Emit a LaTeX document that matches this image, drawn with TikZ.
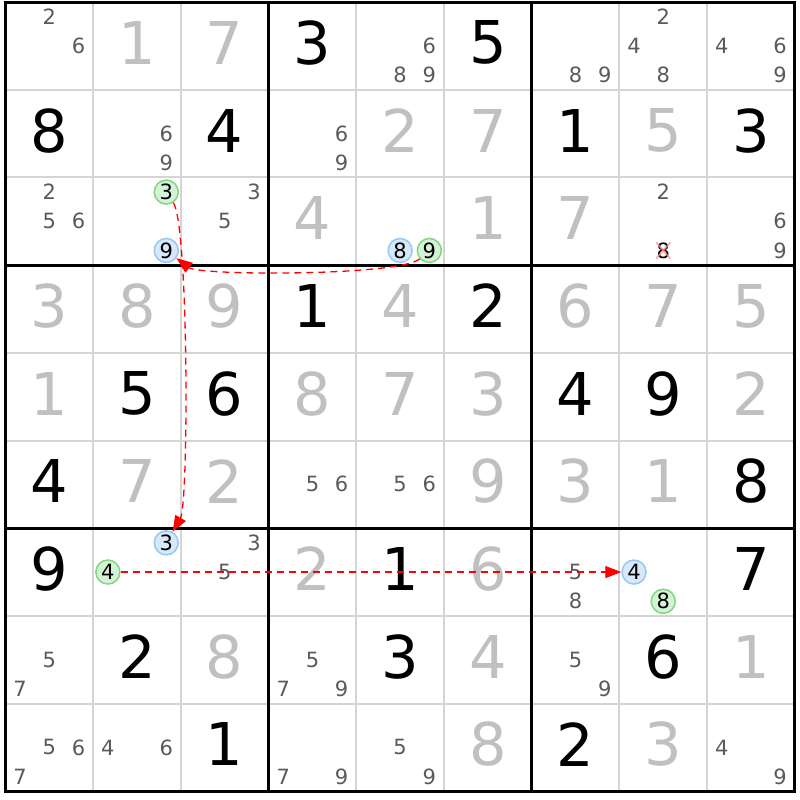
\documentclass[tikz,border=0pt]{standalone}
\usepackage{fontspec}
\setmainfont{DejaVu Sans}
\usetikzlibrary{arrows.meta}

\definecolor{givengray}{HTML}{C0C0C0}
\definecolor{pencilgray}{HTML}{5A5A5A}
\definecolor{cellgray}{HTML}{D4D4D4}
\definecolor{onfill}{HTML}{D6F2D6}
\definecolor{ondraw}{HTML}{80D880}
\definecolor{offfill}{HTML}{D6E8FA}
\definecolor{offdraw}{HTML}{98C8F4}
\definecolor{crosspink}{HTML}{FF8A8A}

\tikzset{
  bigdigit/.style={font=\fontsize{59}{59}\selectfont, inner sep=0pt, yshift=3pt},
  given/.style={bigdigit, text=givengray},
  solved/.style={bigdigit, text=black},
  pencil/.style={font=\fontsize{21}{21}\selectfont, inner sep=0pt, text=pencilgray},
  greenmark/.style={pencil, text=black, circle, draw=ondraw, fill=onfill, line width=1.5pt, minimum size=24pt},
  bluemark/.style={pencil, text=black, circle, draw=offdraw, fill=offfill, line width=1.5pt, minimum size=24pt},
  celline/.style={draw=cellgray, line width=2pt},
  boxline/.style={draw=black, line width=3pt},
  chain/.style={red, line width=1.3pt, dash pattern=on 7pt off 5pt, -{Triangle[length=16pt, width=12pt]}},
  crossmark/.style={crosspink, line width=1.6pt, opacity=0.8}
}

\begin{document}
\begin{tikzpicture}[x=87.7pt, y=-87.7pt]
    \fill[white] (-0.0627,-0.0228) rectangle (9.0593,9.0993);
    \useasboundingbox (-0.0627,-0.0228) rectangle (9.0593,9.0993);

    % grid
    \foreach \i in {1,2,4,5,7,8} {
      \draw[celline] (\i,0) -- (\i,9);
      \draw[celline] (0,\i) -- (9,\i);
    }
    \foreach \i in {3,6} {
      \draw[boxline] (\i,0) -- (\i,9);
      \draw[boxline] (0,\i) -- (9,\i);
    }
    \draw[boxline] (0,0) rectangle (9,9);

    % row 0
    \node[given]  (v01) at (1.5,0.5) {1};
    \node[given]  (v02) at (2.5,0.5) {7};
    \node[solved] (v03) at (3.5,0.5) {3};
    \node[solved] (v05) at (5.5,0.5) {5};
    % row 1
    \node[solved] (v10) at (0.5,1.5) {8};
    \node[solved] (v12) at (2.5,1.5) {4};
    \node[given]  (v14) at (4.5,1.5) {2};
    \node[given]  (v15) at (5.5,1.5) {7};
    \node[solved] (v16) at (6.5,1.5) {1};
    \node[given]  (v17) at (7.5,1.5) {5};
    \node[solved] (v18) at (8.5,1.5) {3};
    % row 2
    \node[given]  (v23) at (3.5,2.5) {4};
    \node[given]  (v25) at (5.5,2.5) {1};
    \node[given]  (v26) at (6.5,2.5) {7};
    % row 3
    \node[given]  (v30) at (0.5,3.5) {3};
    \node[given]  (v31) at (1.5,3.5) {8};
    \node[given]  (v32) at (2.5,3.5) {9};
    \node[solved] (v33) at (3.5,3.5) {1};
    \node[given]  (v34) at (4.5,3.5) {4};
    \node[solved] (v35) at (5.5,3.5) {2};
    \node[given]  (v36) at (6.5,3.5) {6};
    \node[given]  (v37) at (7.5,3.5) {7};
    \node[given]  (v38) at (8.5,3.5) {5};
    % row 4
    \node[given]  (v40) at (0.5,4.5) {1};
    \node[solved] (v41) at (1.5,4.5) {5};
    \node[solved] (v42) at (2.5,4.5) {6};
    \node[given]  (v43) at (3.5,4.5) {8};
    \node[given]  (v44) at (4.5,4.5) {7};
    \node[given]  (v45) at (5.5,4.5) {3};
    \node[solved] (v46) at (6.5,4.5) {4};
    \node[solved] (v47) at (7.5,4.5) {9};
    \node[given]  (v48) at (8.5,4.5) {2};
    % row 5
    \node[solved] (v50) at (0.5,5.5) {4};
    \node[given]  (v51) at (1.5,5.5) {7};
    \node[given]  (v52) at (2.5,5.5) {2};
    \node[given]  (v55) at (5.5,5.5) {9};
    \node[given]  (v56) at (6.5,5.5) {3};
    \node[given]  (v57) at (7.5,5.5) {1};
    \node[solved] (v58) at (8.5,5.5) {8};
    % row 6
    \node[solved] (v60) at (0.5,6.5) {9};
    \node[given]  (v63) at (3.5,6.5) {2};
    \node[solved] (v64) at (4.5,6.5) {1};
    \node[given]  (v65) at (5.5,6.5) {6};
    \node[solved] (v68) at (8.5,6.5) {7};
    % row 7
    \node[solved] (v71) at (1.5,7.5) {2};
    \node[given]  (v72) at (2.5,7.5) {8};
    \node[solved] (v74) at (4.5,7.5) {3};
    \node[given]  (v75) at (5.5,7.5) {4};
    \node[solved] (v77) at (7.5,7.5) {6};
    \node[given]  (v78) at (8.5,7.5) {1};
    % row 8
    \node[solved] (v82) at (2.5,8.5) {1};
    \node[given]  (v85) at (5.5,8.5) {8};
    \node[solved] (v86) at (6.5,8.5) {2};
    \node[given]  (v87) at (7.5,8.5) {3};

    % pencil marks
    \node[pencil] (p002) at (0.5,0.167) {2};
    \node[pencil] (p006) at (0.833,0.5) {6};
    \node[pencil] (p046) at (4.833,0.5) {6};
    \node[pencil] (p048) at (4.5,0.833) {8};
    \node[pencil] (p049) at (4.833,0.833) {9};
    \node[pencil] (p068) at (6.5,0.833) {8};
    \node[pencil] (p069) at (6.833,0.833) {9};
    \node[pencil] (p072) at (7.5,0.167) {2};
    \node[pencil] (p074) at (7.167,0.5) {4};
    \node[pencil] (p078) at (7.5,0.833) {8};
    \node[pencil] (p084) at (8.167,0.5) {4};
    \node[pencil] (p086) at (8.833,0.5) {6};
    \node[pencil] (p089) at (8.833,0.833) {9};

    \node[pencil] (p116) at (1.833,1.5) {6};
    \node[pencil] (p119) at (1.833,1.833) {9};
    \node[pencil] (p136) at (3.833,1.5) {6};
    \node[pencil] (p139) at (3.833,1.833) {9};

    \node[pencil] (p202) at (0.5,2.167) {2};
    \node[pencil] (p205) at (0.5,2.5) {5};
    \node[pencil] (p206) at (0.833,2.5) {6};
    \node[greenmark] (p213) at (1.833,2.167) {3};
    \node[bluemark]  (p219) at (1.833,2.833) {9};
    \node[pencil] (p223) at (2.833,2.167) {3};
    \node[pencil] (p225) at (2.5,2.5) {5};
    \node[bluemark]  (p248) at (4.5,2.833) {8};
    \node[greenmark] (p249) at (4.833,2.833) {9};
    \node[pencil] (p272) at (7.5,2.167) {2};
    \node[pencil, text=black] (p278) at (7.5,2.833) {8};
    \draw[crossmark] (p278.center) ++(-7pt,-8pt) -- ++(14pt,16pt);
    \draw[crossmark] (p278.center) ++(-7pt,8pt) -- ++(14pt,-16pt);
    \node[pencil] (p286) at (8.833,2.5) {6};
    \node[pencil] (p289) at (8.833,2.833) {9};

    \node[pencil] (p535) at (3.5,5.5) {5};
    \node[pencil] (p536) at (3.833,5.5) {6};
    \node[pencil] (p545) at (4.5,5.5) {5};
    \node[pencil] (p546) at (4.833,5.5) {6};

    \node[bluemark]  (p613) at (1.833,6.167) {3};
    \node[greenmark] (p614) at (1.167,6.5) {4};
    \node[pencil] (p623) at (2.833,6.167) {3};
    \node[pencil] (p625) at (2.5,6.5) {5};
    \node[pencil] (p665) at (6.5,6.5) {5};
    \node[pencil] (p668) at (6.5,6.833) {8};
    \node[bluemark]  (p674) at (7.167,6.5) {4};
    \node[greenmark] (p678) at (7.5,6.833) {8};

    \node[pencil] (p705) at (0.5,7.5) {5};
    \node[pencil] (p707) at (0.167,7.833) {7};
    \node[pencil] (p735) at (3.5,7.5) {5};
    \node[pencil] (p737) at (3.167,7.833) {7};
    \node[pencil] (p739) at (3.833,7.833) {9};
    \node[pencil] (p765) at (6.5,7.5) {5};
    \node[pencil] (p769) at (6.833,7.833) {9};

    \node[pencil] (p805) at (0.5,8.5) {5};
    \node[pencil] (p806) at (0.833,8.5) {6};
    \node[pencil] (p807) at (0.167,8.833) {7};
    \node[pencil] (p814) at (1.167,8.5) {4};
    \node[pencil] (p816) at (1.833,8.5) {6};
    \node[pencil] (p837) at (3.167,8.833) {7};
    \node[pencil] (p839) at (3.833,8.833) {9};
    \node[pencil] (p845) at (4.5,8.5) {5};
    \node[pencil] (p849) at (4.833,8.833) {9};
    \node[pencil] (p884) at (8.167,8.5) {4};
    \node[pencil] (p889) at (8.833,8.833) {9};

    % chain links
    \draw[chain] (p249) .. controls (4.5,3.124) and (2.218,3.124) .. (p219);
    \draw[chain] (p213) .. controls (2.09,2.55) and (2.09,5.72) .. (p613);
    \draw[chain] (p614) -- (p674);

  \end{tikzpicture}
\end{document}
